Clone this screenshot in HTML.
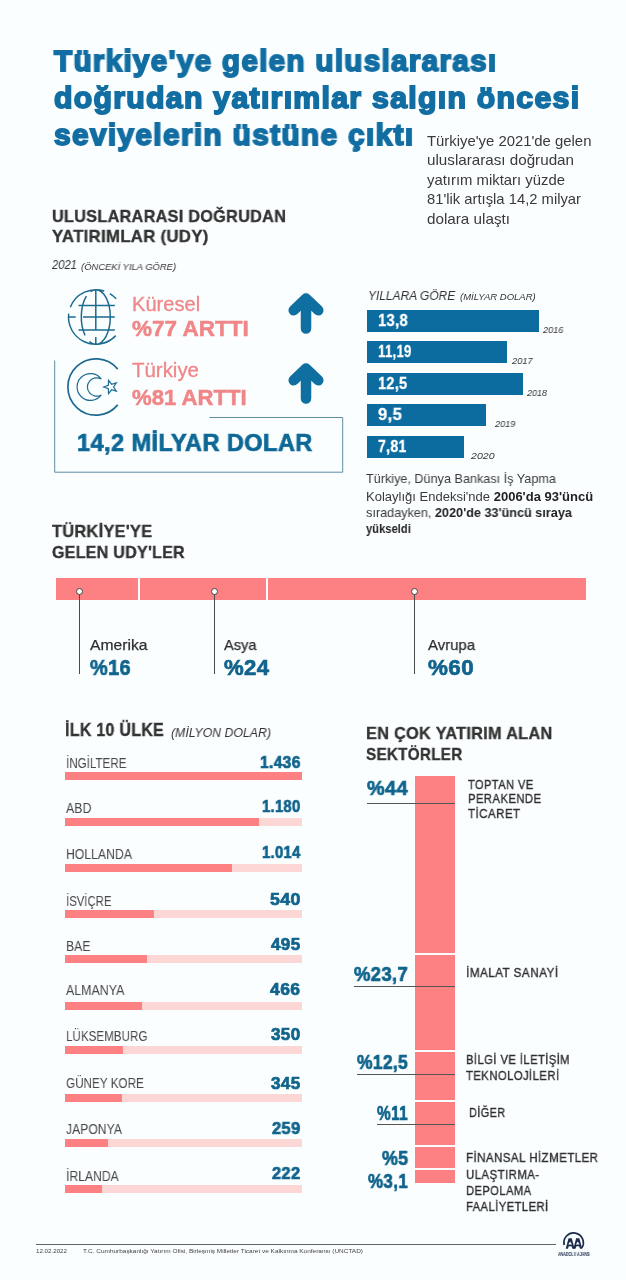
<!DOCTYPE html>
<html><head><meta charset="utf-8"><title>UDY</title>
<style>
html,body{margin:0;padding:0;}
body{width:626px;height:1280px;background:#fbfeff;position:relative;overflow:hidden;font-family:"Liberation Sans",sans-serif;color:#333;}
.a{position:absolute;white-space:nowrap;line-height:1;transform-origin:0 0;will-change:transform;}
.ar{transform-origin:100% 0;}
.b{font-weight:bold;}
.i{font-style:italic;}
.blue{color:#11648c;}
.pink{color:#f08688;}
.dk{color:#333;}
.r{position:absolute;}
svg{position:absolute;left:0;top:0;}
</style></head><body>
<div class="r" style="left:367.2px;top:309.8px;width:172.1px;height:22.1px;background:#0c6ca0;"></div>
<div class="r" style="left:367.2px;top:340.9px;width:139.4px;height:22.1px;background:#0c6ca0;"></div>
<div class="r" style="left:367.2px;top:372.7px;width:156.2px;height:22.1px;background:#0c6ca0;"></div>
<div class="r" style="left:367.2px;top:404.1px;width:118.6px;height:22.1px;background:#0c6ca0;"></div>
<div class="r" style="left:367.2px;top:435.7px;width:97.2px;height:22.1px;background:#0c6ca0;"></div>
<div class="r" style="left:55.8px;top:578.0px;width:529.9px;height:22.0px;background:#fd8083;"></div>
<div class="r" style="left:137.8px;top:578.0px;width:2.0px;height:22.0px;background:#fbfeff;"></div>
<div class="r" style="left:265.7px;top:578.0px;width:2.0px;height:22.0px;background:#fbfeff;"></div>
<div class="r" style="left:78.7px;top:594.0px;width:1.3px;height:80.0px;background:#4a4a4a;"></div>
<div class="r" style="left:75.7px;top:588.2px;width:5px;height:5px;border-radius:50%;background:#fff;border:1.1px solid #444;"></div>
<div class="r" style="left:214.0px;top:594.0px;width:1.3px;height:80.0px;background:#4a4a4a;"></div>
<div class="r" style="left:211.0px;top:588.2px;width:5px;height:5px;border-radius:50%;background:#fff;border:1.1px solid #444;"></div>
<div class="r" style="left:413.9px;top:594.0px;width:1.3px;height:80.0px;background:#4a4a4a;"></div>
<div class="r" style="left:410.9px;top:588.2px;width:5px;height:5px;border-radius:50%;background:#fff;border:1.1px solid #444;"></div>
<div class="r" style="left:65.0px;top:771.6px;width:236.5px;height:8.0px;background:#fcd7d6;"></div>
<div class="r" style="left:65.0px;top:771.6px;width:236.5px;height:8.0px;background:#fd8083;"></div>
<div class="r" style="left:65.0px;top:817.7px;width:236.5px;height:8.0px;background:#fcd7d6;"></div>
<div class="r" style="left:65.0px;top:817.7px;width:194.3px;height:8.0px;background:#fd8083;"></div>
<div class="r" style="left:65.0px;top:864.0px;width:236.5px;height:8.0px;background:#fcd7d6;"></div>
<div class="r" style="left:65.0px;top:864.0px;width:167.0px;height:8.0px;background:#fd8083;"></div>
<div class="r" style="left:65.0px;top:909.9px;width:236.5px;height:8.0px;background:#fcd7d6;"></div>
<div class="r" style="left:65.0px;top:909.9px;width:88.9px;height:8.0px;background:#fd8083;"></div>
<div class="r" style="left:65.0px;top:955.3px;width:236.5px;height:8.0px;background:#fcd7d6;"></div>
<div class="r" style="left:65.0px;top:955.3px;width:81.5px;height:8.0px;background:#fd8083;"></div>
<div class="r" style="left:65.0px;top:1001.8px;width:236.5px;height:8.0px;background:#fcd7d6;"></div>
<div class="r" style="left:65.0px;top:1001.8px;width:76.7px;height:8.0px;background:#fd8083;"></div>
<div class="r" style="left:65.0px;top:1046.0px;width:236.5px;height:8.0px;background:#fcd7d6;"></div>
<div class="r" style="left:65.0px;top:1046.0px;width:57.6px;height:8.0px;background:#fd8083;"></div>
<div class="r" style="left:65.0px;top:1093.7px;width:236.5px;height:8.0px;background:#fcd7d6;"></div>
<div class="r" style="left:65.0px;top:1093.7px;width:56.8px;height:8.0px;background:#fd8083;"></div>
<div class="r" style="left:65.0px;top:1138.7px;width:236.5px;height:8.0px;background:#fcd7d6;"></div>
<div class="r" style="left:65.0px;top:1138.7px;width:42.7px;height:8.0px;background:#fd8083;"></div>
<div class="r" style="left:65.0px;top:1185.4px;width:236.5px;height:8.0px;background:#fcd7d6;"></div>
<div class="r" style="left:65.0px;top:1185.4px;width:36.6px;height:8.0px;background:#fd8083;"></div>
<div class="r" style="left:414.5px;top:776.0px;width:40.0px;height:406.5px;background:#fd8083;"></div>
<div class="r" style="left:414.5px;top:953.4px;width:40.0px;height:1.6px;background:#fbfeff;"></div>
<div class="r" style="left:414.5px;top:1050.4px;width:40.0px;height:1.6px;background:#fbfeff;"></div>
<div class="r" style="left:414.5px;top:1100.4px;width:40.0px;height:1.6px;background:#fbfeff;"></div>
<div class="r" style="left:414.5px;top:1145.4px;width:40.0px;height:1.6px;background:#fbfeff;"></div>
<div class="r" style="left:414.5px;top:1168.4px;width:40.0px;height:1.6px;background:#fbfeff;"></div>
<div class="r" style="left:367.0px;top:803.0px;width:87.5px;height:1.0px;background:#555;"></div>
<div class="r" style="left:354.0px;top:986.0px;width:100.5px;height:1.0px;background:#555;"></div>
<div class="r" style="left:357.0px;top:1073.5px;width:97.5px;height:1.0px;background:#555;"></div>
<div class="r" style="left:377.0px;top:1123.5px;width:77.5px;height:1.0px;background:#555;"></div>
<div class="r" style="left:36.0px;top:1243.5px;width:519.5px;height:1.0px;background:#666;"></div>
<svg width="626" height="1280" viewBox="0 0 626 1280" fill="none">
<g stroke="#0f6fa1" stroke-width="10.5" stroke-linecap="round" stroke-linejoin="round">
<path d="M306 328.6V299M293.7 310.3L306 298.5L318.3 310.3"/>
<path d="M306 398.6V369M293.7 380.3L306 368.5L318.3 380.3"/>
</g>
<path d="M54.7 360.5V472.2H342.7V417.5H209.5" stroke="#5f8ba3" stroke-width="1"/>
<path d="M104.24 291.04A27.30 27.30 0 0 0 70.31 307.22M68.70 313.67A27.30 27.30 0 0 0 115.77 335.62M109.86 293.60A27.30 27.30 0 0 1 116.18 298.84M95.80 289.70A14.5 27.3 0 0 1 95.80 344.30M95.80 289.70A14.5 27.3 0 0 0 90.49 291.60M86.41 296.20A14.5 27.3 0 0 0 85.09 335.40M89.40 341.50A14.5 27.3 0 0 0 95.80 344.30M78.5 305.5H114.8M68.4 316.9H75.7M83 316.9H114.8M78.5 330H114.8M95.8 289.6V330.3M95.8 337V344.6" stroke="#1d6b8f" stroke-width="1.5" fill="none"/>
<path d="M117.71 369.16A28.10 28.10 0 1 0 117.71 404.84" stroke="#1d6b8f" stroke-width="1.7" fill="none"/>
<path d="M101.33 379.11A13.4 13.4 0 1 0 101.33 394.89A9.2 9.2 0 1 1 101.33 379.11ZM103.70 387.00L108.35 385.30L108.54 380.34L111.60 384.24L116.36 382.89L113.60 387.00L116.36 391.11L111.60 389.76L108.54 393.66L108.35 388.70Z" stroke="#1d6b8f" stroke-width="1.2" fill="none" stroke-linejoin="miter"/>
<path d="M564.24 1244.95A9.70 9.70 0 1 1 581.69 1248.02" stroke="#1c2b4d" stroke-width="1.7" fill="none"/>
<path d="M565.70 1248.80L568.55 1238.30H571.75L574.60 1248.80H572.40L571.50 1246.20H568.80L567.90 1248.80Z" fill="#1c2b4d"/><path d="M570.15 1241.50L572.05 1244.40L568.25 1244.40Z" fill="#fbfeff"/><path d="M573.30 1248.80L576.15 1238.30H579.35L582.20 1248.80H580.00L579.10 1246.20H576.40L575.50 1248.80Z" fill="#1c2b4d"/><path d="M577.75 1241.50L579.65 1244.40L575.85 1244.40Z" fill="#fbfeff"/>
</svg>
<div class="a b blue" style="top:45.61px;font-size:30px;left:53.60px;transform:scaleX(0.9889);color:#126ea2;-webkit-text-stroke:1.8px #126ea2;letter-spacing:1.3px">Türkiye'ye gelen uluslararası</div>
<div class="a b blue" style="top:82.61px;font-size:30px;left:53.60px;transform:scaleX(1.0064);color:#126ea2;-webkit-text-stroke:1.8px #126ea2;letter-spacing:1.3px">doğrudan yatırımlar salgın öncesi</div>
<div class="a b blue" style="top:119.61px;font-size:30px;left:53.60px;transform:scaleX(0.9973);color:#126ea2;-webkit-text-stroke:1.8px #126ea2;letter-spacing:1.3px">seviyelerin üstüne çıktı</div>
<div class="a " style="top:133.93px;font-size:14.5px;left:427.00px;transform:scaleX(1.0255);color:#3a3a3a">Türkiye'ye 2021'de gelen</div>
<div class="a " style="top:153.43px;font-size:14.5px;left:427.00px;transform:scaleX(1.0480);color:#3a3a3a">uluslararası doğrudan</div>
<div class="a " style="top:172.63px;font-size:14.5px;left:427.00px;transform:scaleX(1.0255);color:#3a3a3a">yatırım miktarı yüzde</div>
<div class="a " style="top:192.43px;font-size:14.5px;left:427.00px;transform:scaleX(1.0196);color:#3a3a3a">81'lik artışla 14,2 milyar</div>
<div class="a " style="top:211.53px;font-size:14.5px;left:427.00px;transform:scaleX(1.0506);color:#3a3a3a">dolara ulaştı</div>
<div class="a b dk" style="top:207.61px;font-size:17px;left:51.60px;transform:scaleX(0.9549);-webkit-text-stroke:0.35px #333;letter-spacing:0.3px">ULUSLARARASI DOĞRUDAN</div>
<div class="a b dk" style="top:228.41px;font-size:17px;left:51.60px;transform:scaleX(0.9865);-webkit-text-stroke:0.35px #333;letter-spacing:0.3px">YATIRIMLAR (UDY)</div>
<div class="a i dk" style="top:259.22px;font-size:12.5px;left:51.60px;transform:scaleX(0.8953);">2021</div>
<div class="a i dk" style="top:261.76px;font-size:9.5px;left:80.70px;transform:scaleX(0.9898);">(ÖNCEKİ YILA GÖRE)</div>
<div class="a pink" style="top:294.69px;font-size:19.5px;left:132.30px;transform:scaleX(1.0314);-webkit-text-stroke:0.3px #f08688">Küresel</div>
<div class="a b pink" style="top:317.58px;font-size:22px;left:132.30px;transform:scaleX(1.0228);-webkit-text-stroke:0.5px #f08688">%77 ARTTI</div>
<div class="a pink" style="top:361.49px;font-size:19.5px;left:132.30px;transform:scaleX(1.0479);-webkit-text-stroke:0.3px #f08688">Türkiye</div>
<div class="a b pink" style="top:387.08px;font-size:22px;left:132.30px;transform:scaleX(1.0053);-webkit-text-stroke:0.5px #f08688">%81 ARTTI</div>
<div class="a b" style="top:431.36px;font-size:24.5px;left:76.80px;transform:scaleX(0.9635);color:#0e6896;-webkit-text-stroke:0.7px #0e6896;letter-spacing:0.4px">14,2 MİLYAR DOLAR</div>
<div class="a i dk" style="top:288.80px;font-size:13px;left:367.70px;transform:scaleX(0.9190);">YILLARA GÖRE</div>
<div class="a i dk" style="top:291.76px;font-size:9.5px;left:459.50px;transform:scaleX(0.9938);">(MİLYAR DOLAR)</div>
<div class="a b" style="top:312.01px;font-size:17px;left:378.00px;transform:scaleX(0.8677);color:#fff;-webkit-text-stroke:0.3px #fff;letter-spacing:0.4px">13,8</div>
<div class="a i dk" style="top:324.76px;font-size:9.5px;left:542.80px;transform:scaleX(0.9650);">2016</div>
<div class="a b" style="top:343.11px;font-size:17px;left:378.00px;transform:scaleX(0.7705);color:#fff;-webkit-text-stroke:0.3px #fff;letter-spacing:0.4px">11,19</div>
<div class="a i dk" style="top:355.86px;font-size:9.5px;left:511.80px;transform:scaleX(0.9792);">2017</div>
<div class="a b" style="top:374.91px;font-size:17px;left:378.00px;transform:scaleX(0.8505);color:#fff;-webkit-text-stroke:0.3px #fff;letter-spacing:0.4px">12,5</div>
<div class="a i dk" style="top:387.66px;font-size:9.5px;left:527.00px;transform:scaleX(0.9460);">2018</div>
<div class="a b" style="top:406.31px;font-size:17px;left:378.00px;transform:scaleX(0.9741);color:#fff;-webkit-text-stroke:0.3px #fff;letter-spacing:0.4px">9,5</div>
<div class="a i dk" style="top:419.06px;font-size:9.5px;left:495.30px;transform:scaleX(0.9650);">2019</div>
<div class="a b" style="top:437.91px;font-size:17px;left:378.00px;transform:scaleX(0.8274);color:#fff;-webkit-text-stroke:0.3px #fff;letter-spacing:0.4px">7,81</div>
<div class="a i dk" style="top:450.66px;font-size:9.5px;left:470.70px;transform:scaleX(1.1163);">2020</div>
<div class="a " style="top:472.96px;font-size:12.8px;left:365.80px;transform:scaleX(0.9871);color:#3a3a3a">Türkiye, Dünya Bankası İş Yapma</div>
<div class="a " style="top:490.56px;font-size:12.8px;left:365.80px;transform:scaleX(1.0171);color:#3a3a3a">Kolaylığı Endeksi'nde <b style='color:#222'>2006'da 93'üncü</b></div>
<div class="a " style="top:506.66px;font-size:12.8px;left:365.80px;transform:scaleX(0.9893);color:#3a3a3a">sıradayken, <b style='color:#222'>2020'de 33'üncü sıraya</b></div>
<div class="a " style="top:523.16px;font-size:12.8px;left:365.80px;transform:scaleX(0.8747);color:#3a3a3a"><b style='color:#222'>yükseldi</b></div>
<div class="a b dk" style="top:522.61px;font-size:17px;left:51.60px;transform:scaleX(0.9622);-webkit-text-stroke:0.35px #333;letter-spacing:0.3px">TÜRKİYE'YE</div>
<div class="a b dk" style="top:544.21px;font-size:17px;left:51.60px;transform:scaleX(0.9417);-webkit-text-stroke:0.35px #333;letter-spacing:0.3px">GELEN UDY'LER</div>
<div class="a " style="top:637.30px;font-size:15px;left:90.00px;transform:scaleX(1.0452);color:#2e2e2e;-webkit-text-stroke:0.25px #2e2e2e">Amerika</div>
<div class="a b blue" style="top:656.78px;font-size:22px;left:90.00px;transform:scaleX(0.9064);-webkit-text-stroke:0.7px #11648c;letter-spacing:0.4px">%16</div>
<div class="a " style="top:637.30px;font-size:15px;left:223.50px;transform:scaleX(0.9742);color:#2e2e2e;-webkit-text-stroke:0.25px #2e2e2e">Asya</div>
<div class="a b blue" style="top:656.78px;font-size:22px;left:223.50px;transform:scaleX(1.0059);-webkit-text-stroke:0.7px #11648c;letter-spacing:0.4px">%24</div>
<div class="a " style="top:637.30px;font-size:15px;left:428.00px;transform:scaleX(0.9944);color:#2e2e2e;-webkit-text-stroke:0.25px #2e2e2e">Avrupa</div>
<div class="a b blue" style="top:656.78px;font-size:22px;left:428.00px;transform:scaleX(1.0169);-webkit-text-stroke:0.7px #11648c;letter-spacing:0.4px">%60</div>
<div class="a b dk" style="top:722.19px;font-size:17.5px;left:65.00px;transform:scaleX(0.9139);-webkit-text-stroke:0.35px #333;letter-spacing:0.3px">İLK 10 ÜLKE</div>
<div class="a i dk" style="top:726.00px;font-size:13px;left:171.00px;transform:scaleX(0.9459);">(MİLYON DOLAR)</div>
<div class="a " style="top:755.75px;font-size:14px;left:65.60px;transform:scaleX(0.8288);color:#484848">İNGİLTERE</div>
<div class="a b blue" style="top:753.61px;font-size:17px;left:259.90px;transform:scaleX(0.9136);-webkit-text-stroke:0.7px #11648c;letter-spacing:0.4px">1.436</div>
<div class="a " style="top:800.65px;font-size:14px;left:65.60px;transform:scaleX(0.8820);color:#484848">ABD</div>
<div class="a b blue" style="top:798.01px;font-size:17px;left:262.10px;transform:scaleX(0.8643);-webkit-text-stroke:0.7px #11648c;letter-spacing:0.4px">1.180</div>
<div class="a " style="top:846.95px;font-size:14px;left:65.60px;transform:scaleX(0.8732);color:#484848">HOLLANDA</div>
<div class="a b blue" style="top:844.21px;font-size:17px;left:262.00px;transform:scaleX(0.8665);-webkit-text-stroke:0.7px #11648c;letter-spacing:0.4px">1.014</div>
<div class="a " style="top:893.55px;font-size:14px;left:65.60px;transform:scaleX(0.8105);color:#484848">İSVİÇRE</div>
<div class="a b blue" style="top:890.61px;font-size:17px;left:269.80px;transform:scaleX(1.0413);-webkit-text-stroke:0.7px #11648c;letter-spacing:0.4px">540</div>
<div class="a " style="top:938.95px;font-size:14px;left:65.60px;transform:scaleX(0.8709);color:#484848">BAE</div>
<div class="a b blue" style="top:935.81px;font-size:17px;left:271.00px;transform:scaleX(1.0007);-webkit-text-stroke:0.7px #11648c;letter-spacing:0.4px">495</div>
<div class="a " style="top:983.35px;font-size:14px;left:65.60px;transform:scaleX(0.8865);color:#484848">ALMANYA</div>
<div class="a b blue" style="top:980.71px;font-size:17px;left:270.20px;transform:scaleX(1.0278);-webkit-text-stroke:0.7px #11648c;letter-spacing:0.4px">466</div>
<div class="a " style="top:1028.95px;font-size:14px;left:65.60px;transform:scaleX(0.8303);color:#484848">LÜKSEMBURG</div>
<div class="a b blue" style="top:1026.21px;font-size:17px;left:271.00px;transform:scaleX(1.0007);-webkit-text-stroke:0.7px #11648c;letter-spacing:0.4px">350</div>
<div class="a " style="top:1075.75px;font-size:14px;left:65.60px;transform:scaleX(0.8356);color:#484848">GÜNEY KORE</div>
<div class="a b blue" style="top:1074.61px;font-size:17px;left:271.00px;transform:scaleX(1.0007);-webkit-text-stroke:0.7px #11648c;letter-spacing:0.4px">345</div>
<div class="a " style="top:1121.95px;font-size:14px;left:65.60px;transform:scaleX(0.8692);color:#484848">JAPONYA</div>
<div class="a b blue" style="top:1119.61px;font-size:17px;left:272.00px;transform:scaleX(0.9669);-webkit-text-stroke:0.7px #11648c;letter-spacing:0.4px">259</div>
<div class="a " style="top:1168.65px;font-size:14px;left:65.60px;transform:scaleX(0.8700);color:#484848">İRLANDA</div>
<div class="a b blue" style="top:1164.61px;font-size:17px;left:272.10px;transform:scaleX(0.9635);-webkit-text-stroke:0.7px #11648c;letter-spacing:0.4px">222</div>
<div class="a b dk" style="top:724.61px;font-size:17px;left:365.50px;transform:scaleX(0.9583);-webkit-text-stroke:0.35px #333;letter-spacing:0.3px">EN ÇOK YATIRIM ALAN</div>
<div class="a b dk" style="top:745.61px;font-size:17px;left:365.50px;transform:scaleX(0.8973);-webkit-text-stroke:0.35px #333;letter-spacing:0.3px">SEKTÖRLER</div>
<div class="a b blue" style="top:777.22px;font-size:21px;left:367.00px;transform:scaleX(0.9483);-webkit-text-stroke:0.7px #11648c;letter-spacing:0.4px">%44</div>
<div class="a b blue" style="top:963.22px;font-size:21px;left:354.00px;transform:scaleX(0.8774);-webkit-text-stroke:0.7px #11648c;letter-spacing:0.4px">%23,7</div>
<div class="a b blue" style="top:1051.22px;font-size:21px;left:357.00px;transform:scaleX(0.8286);-webkit-text-stroke:0.7px #11648c;letter-spacing:0.4px">%12,5</div>
<div class="a b blue" style="top:1102.22px;font-size:21px;left:377.00px;transform:scaleX(0.7367);-webkit-text-stroke:0.7px #11648c;letter-spacing:0.4px">%11</div>
<div class="a b blue" style="top:1147.22px;font-size:21px;left:381.50px;transform:scaleX(0.8506);-webkit-text-stroke:0.7px #11648c;letter-spacing:0.4px">%5</div>
<div class="a b blue" style="top:1169.72px;font-size:21px;left:368.00px;transform:scaleX(0.8086);-webkit-text-stroke:0.7px #11648c;letter-spacing:0.4px">%3,1</div>
<div class="a " style="top:777.83px;font-size:13.2px;left:468.40px;transform:scaleX(0.8407);color:#2e2e2e;-webkit-text-stroke:0.35px #2e2e2e;letter-spacing:0.5px">TOPTAN VE</div>
<div class="a " style="top:792.23px;font-size:13.2px;left:468.40px;transform:scaleX(0.8561);color:#2e2e2e;-webkit-text-stroke:0.35px #2e2e2e;letter-spacing:0.5px">PERAKENDE</div>
<div class="a " style="top:807.03px;font-size:13.2px;left:468.40px;transform:scaleX(0.8778);color:#2e2e2e;-webkit-text-stroke:0.35px #2e2e2e;letter-spacing:0.5px">TİCARET</div>
<div class="a " style="top:966.33px;font-size:13.2px;left:465.50px;transform:scaleX(0.8897);color:#2e2e2e;-webkit-text-stroke:0.35px #2e2e2e;letter-spacing:0.5px">İMALAT SANAYİ</div>
<div class="a " style="top:1052.83px;font-size:13.2px;left:465.50px;transform:scaleX(0.8517);color:#2e2e2e;-webkit-text-stroke:0.35px #2e2e2e;letter-spacing:0.5px">BİLGİ VE İLETİŞİM</div>
<div class="a " style="top:1068.83px;font-size:13.2px;left:465.50px;transform:scaleX(0.8569);color:#2e2e2e;-webkit-text-stroke:0.35px #2e2e2e;letter-spacing:0.5px">TEKNOLOJİLERİ</div>
<div class="a " style="top:1106.33px;font-size:13.2px;left:469.00px;transform:scaleX(0.8246);color:#2e2e2e;-webkit-text-stroke:0.35px #2e2e2e;letter-spacing:0.5px">DİĞER</div>
<div class="a " style="top:1151.33px;font-size:13.2px;left:465.50px;transform:scaleX(0.8751);color:#2e2e2e;-webkit-text-stroke:0.35px #2e2e2e;letter-spacing:0.5px">FİNANSAL HİZMETLER</div>
<div class="a " style="top:1167.83px;font-size:13.2px;left:465.50px;transform:scaleX(0.8660);color:#2e2e2e;-webkit-text-stroke:0.35px #2e2e2e;letter-spacing:0.5px">ULAŞTIRMA-</div>
<div class="a " style="top:1183.83px;font-size:13.2px;left:465.50px;transform:scaleX(0.8474);color:#2e2e2e;-webkit-text-stroke:0.35px #2e2e2e;letter-spacing:0.5px">DEPOLAMA</div>
<div class="a " style="top:1200.33px;font-size:13.2px;left:465.50px;transform:scaleX(0.8515);color:#2e2e2e;-webkit-text-stroke:0.35px #2e2e2e;letter-spacing:0.5px">FAALİYETLERİ</div>
<div class="a " style="top:1247.72px;font-size:6px;left:36.00px;transform:scaleX(1.0323);color:#444">12.02.2022</div>
<div class="a " style="top:1247.72px;font-size:6px;left:83.00px;transform:scaleX(1.0752);color:#444">T.C. Cumhurbaşkanlığı Yatırım Ofisi, Birleşmiş Milletler Ticaret ve Kalkınma Konferansı (UNCTAD)</div>
<div class="a b" style="top:1252.51px;font-size:4.6px;left:557.50px;transform:scaleX(0.7918);color:#1c2b4d">ANADOLU AJANSI</div>
</body></html>
